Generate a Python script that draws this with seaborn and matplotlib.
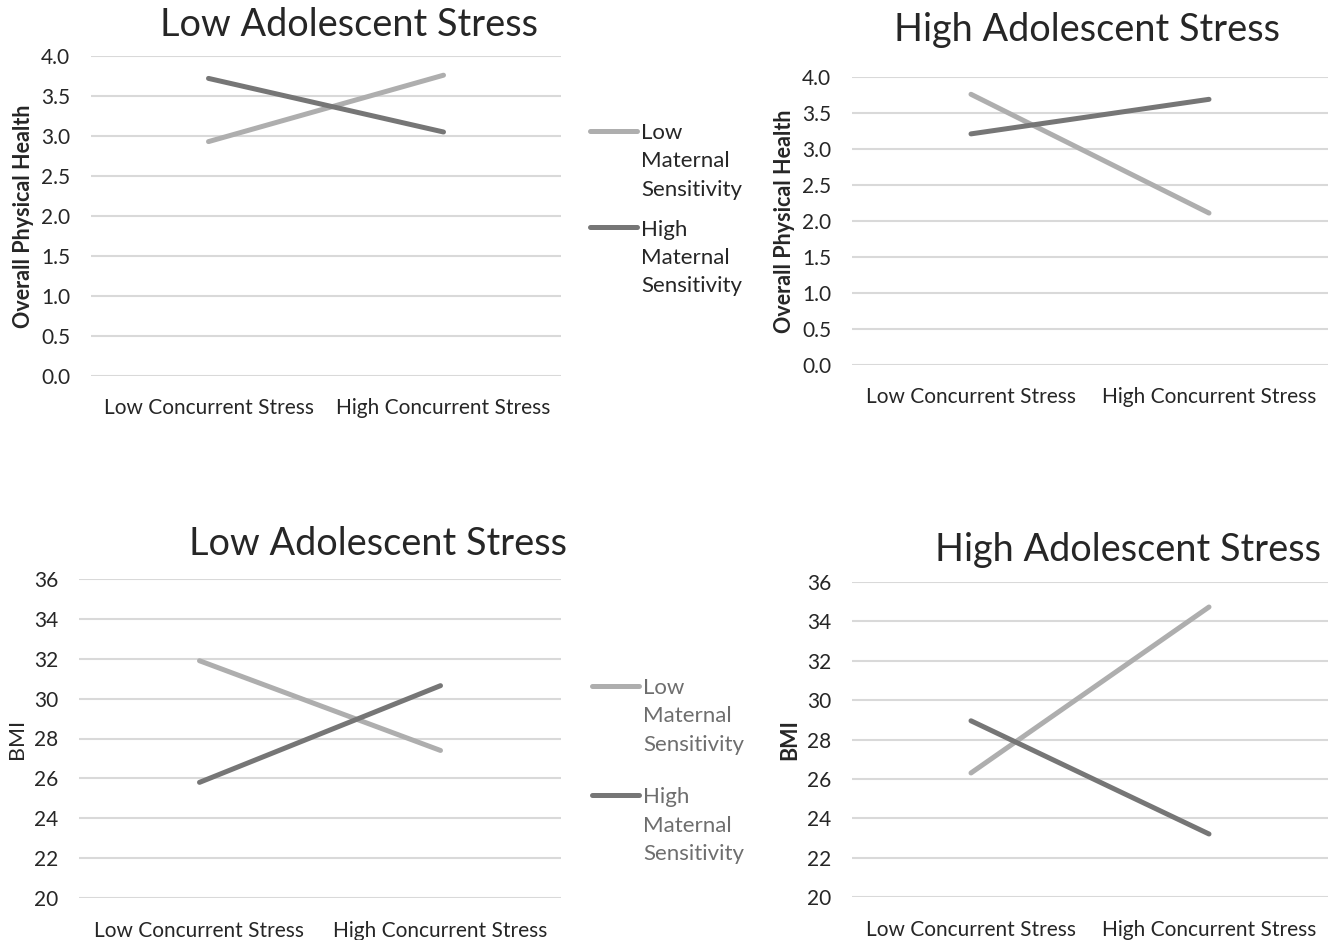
import matplotlib
matplotlib.use("Agg")
import matplotlib.pyplot as plt
import seaborn as sns
import pandas as pd

# Categories and group labels
conditions = ["Low Concurrent Stress", "High Concurrent Stress"]
groups = ["Low Maternal Sensitivity", "High Maternal Sensitivity"]

# Overall physical health
health_low_adol_low_ms = [2.93, 3.76]
health_low_adol_high_ms = [3.72, 3.05]
health_high_adol_low_ms = [3.76, 2.11]
health_high_adol_high_ms = [3.21, 3.69]

# BMI
bmi_low_adol_low_ms = [31.9, 27.4]
bmi_low_adol_high_ms = [25.8, 30.65]
bmi_high_adol_low_ms = [26.3, 34.73]
bmi_high_adol_high_ms = [28.95, 23.2]

health_ticks = [0.0, 0.5, 1.0, 1.5, 2.0, 2.5, 3.0, 3.5, 4.0]
bmi_ticks = [20, 22, 24, 26, 28, 30, 32, 34, 36]

LIGHT = "#AEAEAE"
DARK = "#767676"
GRID = "#D9D9D9"
TEXT = "#262626"

sns.set_theme(style="white")
plt.rcParams["font.family"] = ["Lato", "DejaVu Sans"]


def frame(low_ms, high_ms):
    return pd.DataFrame({
        "condition": conditions * 2,
        "group": [groups[0]] * 2 + [groups[1]] * 2,
        "value": list(low_ms) + list(high_ms),
    })


W, H = 1336, 940
fig = plt.figure(figsize=(W / 100, H / 100), dpi=100)


def add_axes(x0, x1, ytop, ybot):
    return fig.add_axes([x0 / W, 1 - ybot / H, (x1 - x0) / W, (ybot - ytop) / H])


panels = [
    dict(box=(91, 561, 56, 376), low=health_low_adol_low_ms, high=health_low_adol_high_ms,
         ticks=health_ticks, fmt="{:.1f}", ylabel="Overall Physical Health", bold=True,
         title="Low Adolescent Stress", tx=0.549, ty=1.097, legend=True, legcolor=TEXT,
         legpos=(590, 123), labelspacing=0.9, xpad=16),
    dict(box=(852, 1328, 77, 365), low=health_high_adol_low_ms, high=health_high_adol_high_ms,
         ticks=health_ticks, fmt="{:.1f}", ylabel="Overall Physical Health", bold=True,
         title="High Adolescent Stress", tx=0.494, ty=1.163, legend=False, xpad=16),
    dict(box=(79, 561, 579, 898), low=bmi_low_adol_low_ms, high=bmi_low_adol_high_ms,
         ticks=bmi_ticks, fmt="{:d}", ylabel="BMI", bold=False,
         title="Low Adolescent Stress", tx=0.620, ty=1.110, legend=True, legcolor="#6E6E6E",
         legpos=(592, 678), labelspacing=1.47, xpad=16.5),
    dict(box=(852, 1328, 582, 897), low=bmi_high_adol_low_ms, high=bmi_high_adol_high_ms,
         ticks=bmi_ticks, fmt="{:d}", ylabel="BMI", bold=True,
         title="High Adolescent Stress", tx=0.580, ty=1.102, legend=False, xpad=16.5),
]

for p in panels:
    ax = add_axes(*p["box"])
    df = frame(p["low"], p["high"])
    sns.lineplot(data=df, x="condition", y="value", hue="group", hue_order=groups,
                 palette=[LIGHT, DARK], linewidth=3.6, ax=ax, sort=False,
                 legend=p["legend"])
    for line in ax.lines:
        line.set_solid_capstyle("round")
    ax.set_xlim(-0.5, 1.5)
    ax.set_ylim(p["ticks"][0], p["ticks"][-1])
    ax.set_yticks(p["ticks"])
    ax.set_yticklabels([p["fmt"].format(t) for t in p["ticks"]])
    ax.set_xticks(range(len(conditions)))
    ax.set_xticklabels(conditions)
    ax.grid(axis="y", color=GRID, linewidth=1.5)
    ax.grid(axis="x", visible=False)
    ax.set_axisbelow(True)
    for s in ax.spines.values():
        s.set_visible(False)
    ax.tick_params(axis="y", length=0, pad=15, labelsize=15, labelcolor=TEXT)
    ax.tick_params(axis="x", length=0, pad=p["xpad"], labelsize=15, labelcolor=TEXT)
    ax.set_xlabel("")
    ax.set_ylabel(p["ylabel"], fontsize=15.5, color=TEXT,
                  fontweight="bold" if p["bold"] else "normal", labelpad=5)
    ax.text(p["tx"], p["ty"], p["title"], transform=ax.transAxes, ha="center",
            va="center", fontsize=27.3, color=TEXT)

    if p["legend"]:
        handles, labels = ax.get_legend_handles_labels()
        labels = [l.replace(" ", "\n") for l in labels]
        ax.get_legend().remove()
        lx, ly = p["legpos"]
        leg = fig.legend(handles, labels, loc="upper left",
                         bbox_to_anchor=(lx / W, 1 - ly / H), frameon=False,
                         fontsize=16, handlelength=2.1, handletextpad=0.2,
                         borderpad=0, borderaxespad=0, labelspacing=p["labelspacing"])
        for t in leg.get_texts():
            t.set_color(p["legcolor"])
            t.set_linespacing(1.52)
        for lh in leg.legend_handles:
            lh.set_linewidth(3.6)
        try:
            for col in leg._legend_handle_box.get_children():
                for row in col.get_children():
                    row.align = "top"
        except AttributeError:
            pass

fig.savefig("out.png", dpi=100, facecolor="white")
